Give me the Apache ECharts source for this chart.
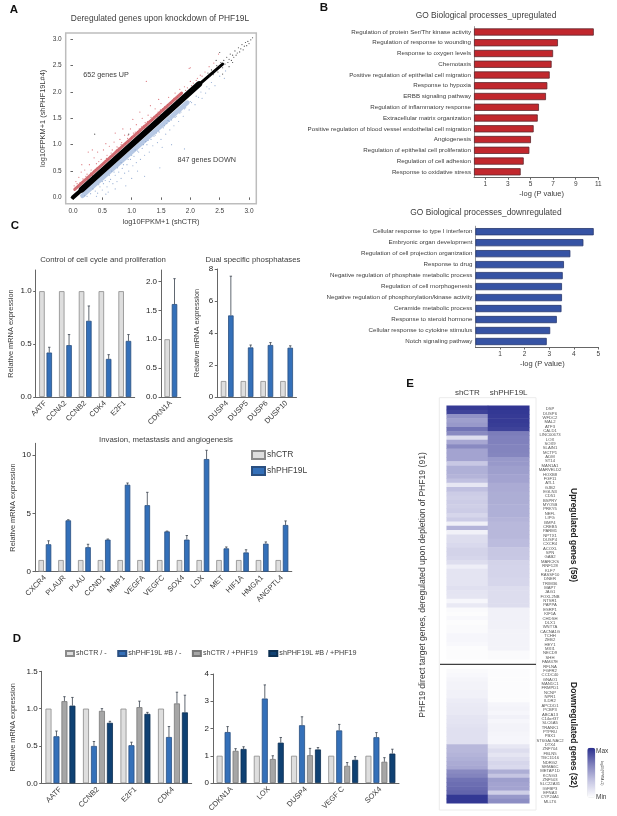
<!DOCTYPE html>
<html>
<head>
    <meta charset="utf-8">
    <title>PHF19L</title>
    <script src="https://cdn.jsdelivr.net/npm/echarts@6/dist/echarts.min.js"></script>
    <style>
        html, body { margin: 0; padding: 0; background: #fff; }
        #main { width: 617px; height: 816px; }
    </style>
</head>
<body>
    <div id="main"></div>
    <script type="text/javascript">
        // panel A. the solid band is the dense bulk of the genes
        var bulkCore = [[0.15, 0.15], [2.15, 2.15]];
        var bulkStart = [[0, 0], [0.35, 0.34]];
        var bulkTip = [[2.0, 2.0], [2.55, 2.53]];
        var redFringe = [[0.03, 0.15], [1.85, 1.98]];
        var blueFringe = [[0.16, 0.03], [1.95, 1.8]];
        var upPoints = [[0.02, 0.22], [0.05, 0.3], [0.08, 0.2], [0.1, 0.38], [0.12, 0.28], [0.14, 0.48], [0.17, 0.35], [0.2, 0.52], [0.22, 0.4], [0.25, 0.34], [0.28, 0.62], [0.3, 0.46], [0.33, 0.42], [0.36, 0.75], [0.38, 0.53], [0.4, 0.64], [0.42, 0.86], [0.45, 0.58], [0.48, 0.72], [0.5, 0.62], [0.52, 0.9], [0.55, 0.7], [0.58, 0.8], [0.6, 0.72], [0.62, 0.97], [0.65, 0.84], [0.68, 0.78], [0.7, 1.05], [0.72, 0.88], [0.75, 0.96], [0.78, 0.88], [0.8, 1.1], [0.82, 1.0], [0.85, 0.98], [0.88, 1.18], [0.9, 1.04], [0.93, 1.12], [0.95, 1.06], [0.98, 1.3], [1.0, 1.15], [1.03, 1.22], [1.05, 1.16], [1.08, 1.38], [1.1, 1.25], [1.13, 1.3], [1.15, 1.26], [1.18, 1.5], [1.2, 1.36], [1.23, 1.42], [1.25, 1.36], [1.28, 1.56], [1.3, 1.45], [1.33, 1.52], [1.36, 1.47], [1.4, 1.68], [1.42, 1.57], [1.45, 1.62], [1.48, 1.58], [1.5, 1.78], [1.53, 1.68], [1.56, 1.72], [1.6, 1.7], [1.63, 1.9], [1.66, 1.8], [1.7, 1.84], [1.74, 1.98], [1.78, 1.9], [1.82, 2.05], [1.86, 1.98], [1.9, 2.1], [1.95, 2.08], [2.0, 2.2], [2.05, 2.17], [2.1, 2.22], [2.17, 2.32], [2.25, 2.38], [2.32, 2.48], [2.4, 2.55], [2.48, 2.72], [1.25, 2.2], [1.98, 2.45], [2.0, 2.46], [0.15, 0.62], [0.26, 0.86], [0.33, 0.9], [0.56, 1.02], [0.72, 1.22], [0.85, 1.3], [1.02, 1.48], [1.14, 1.62], [1.32, 1.74], [1.46, 1.86], [0.07, 0.26], [0.16, 0.3], [0.24, 0.44], [0.31, 0.52], [0.35, 0.5], [0.41, 0.56], [0.44, 0.68], [0.53, 0.66], [0.57, 0.74], [0.63, 0.78], [0.67, 0.9], [0.74, 0.9], [0.77, 0.94], [0.83, 1.04], [0.89, 1.02], [0.94, 1.18], [0.99, 1.12], [1.06, 1.24], [1.12, 1.22], [1.17, 1.34], [1.22, 1.32], [1.27, 1.44], [1.34, 1.45], [1.38, 1.54], [1.44, 1.54], [1.49, 1.66], [1.55, 1.64], [1.61, 1.76], [1.68, 1.78], [1.72, 1.88], [1.76, 1.85], [1.84, 1.95], [1.92, 2.03], [2.02, 2.12], [2.12, 2.26], [2.2, 2.3]];
        var downPoints = [[0.2, 0.03], [0.3, 0.07], [0.24, 0.02], [0.38, 0.12], [0.42, 0.08], [0.46, 0.2], [0.5, 0.14], [0.52, 0.26], [0.58, 0.2], [0.6, 0.1], [0.64, 0.34], [0.68, 0.26], [0.72, 0.42], [0.75, 0.3], [0.78, 0.48], [0.82, 0.36], [0.84, 0.55], [0.88, 0.46], [0.92, 0.62], [0.95, 0.5], [0.98, 0.72], [1.02, 0.6], [1.04, 0.78], [1.08, 0.66], [1.12, 0.86], [1.15, 0.72], [1.18, 0.93], [1.22, 0.8], [1.26, 1.0], [1.3, 0.86], [1.33, 1.1], [1.36, 0.98], [1.4, 1.18], [1.44, 1.04], [1.47, 1.24], [1.5, 1.1], [1.54, 1.32], [1.58, 1.2], [1.6, 1.4], [1.65, 1.28], [1.68, 1.47], [1.72, 1.36], [1.76, 1.54], [1.8, 1.44], [1.84, 1.62], [1.88, 1.54], [1.92, 1.7], [1.98, 1.66], [2.02, 1.8], [2.08, 1.76], [2.14, 1.9], [2.2, 1.88], [2.26, 1.98], [2.32, 2.06], [2.42, 2.12], [2.5, 2.3], [2.58, 2.26], [2.6, 2.4], [1.68, 1.0], [1.48, 0.56], [1.22, 0.4], [0.62, 0.3], [0.9, 0.22], [1.1, 0.5], [1.52, 0.95], [1.9, 0.92], [0.4, 0.02], [0.56, 0.06], [0.72, 0.16], [1.0, 0.36], [0.34, 0.16], [0.44, 0.24], [0.55, 0.32], [0.62, 0.42], [0.7, 0.48], [0.76, 0.56], [0.86, 0.62], [0.94, 0.72], [1.0, 0.8], [1.1, 0.88], [1.2, 1.0], [1.28, 1.08], [1.38, 1.16], [1.46, 1.26], [1.56, 1.36], [1.64, 1.44], [1.74, 1.52], [1.82, 1.6], [1.9, 1.68], [2.0, 1.82], [2.1, 1.92], [2.18, 2.0], [2.28, 2.1], [2.36, 2.18], [0.82, 0.66], [1.06, 0.9], [1.24, 1.06], [1.42, 1.22], [1.62, 1.46], [0.5, 0.3], [0.66, 0.5]];
        var tailPoints = [[2.3, 2.36], [2.33, 2.3], [2.36, 2.42], [2.39, 2.33], [2.42, 2.4], [2.45, 2.5], [2.47, 2.38], [2.5, 2.48], [2.52, 2.56], [2.55, 2.46], [2.57, 2.6], [2.59, 2.53], [2.62, 2.66], [2.64, 2.56], [2.66, 2.62], [2.68, 2.72], [2.7, 2.6], [2.72, 2.7], [2.74, 2.66], [2.76, 2.78], [2.78, 2.7], [2.8, 2.74], [2.82, 2.84], [2.84, 2.76], [2.86, 2.82], [2.88, 2.9], [2.9, 2.8], [2.92, 2.87], [2.94, 2.94], [2.96, 2.88], [2.98, 2.96], [3.0, 2.92], [3.03, 2.99], [3.06, 3.03], [2.72, 2.56], [2.55, 2.34], [2.44, 2.6], [2.66, 2.48], [0.37, 1.2], [0.95, 1.2], [2.5, 2.75]];

        // panel B
        var goUpTerms = ['Regulation of protein Ser/Thr kinase activity', 'Regulation of response to wounding', 'Response to oxygen levels', 'Chemotaxis', 'Positive regulation of epithelial cell migration', 'Response to hypoxia', 'ERBB signaling pathway', 'Regulation of inflammatory response', 'Extracellular matrix organization', 'Positive regulation of blood vessel endothelial cell migration', 'Angiogenesis', 'Regulation of epithelial cell proliferation', 'Regulation of cell adhesion', 'Response to oxidative stress'];
        var goUpValues = [10.6, 7.43, 7.0, 6.87, 6.7, 6.49, 6.37, 5.75, 5.64, 5.28, 5.04, 4.9, 4.4, 4.13];
        var goDownTerms = ['Cellular response to type I interferon', 'Embryonic organ development', 'Regulation of cell projection organization', 'Response to drug', 'Negative regulation of phosphate metabolic process', 'Regulation of cell morphogenesis', 'Negative regulation of phosphorylation/kinase activity', 'Ceramide metabolic process', 'Response to steroid hormone', 'Cellular response to cytokine stimulus', 'Notch signaling pathway'];
        var goDownValues = [4.81, 4.39, 3.86, 3.6, 3.55, 3.52, 3.52, 3.5, 3.31, 3.04, 2.9];

        // panel C
        var cycleGenes = ['AATF', 'CCNA2', 'CCNB2', 'CDK4', 'E2F1'];
        var cycleCtr = [1, 1, 1, 1, 1];
        var cycleKd = [0.42, 0.49, 0.72, 0.36, 0.53];
        var cycleKdTop = [0.47, 0.59, 0.86, 0.4, 0.59];
        var cdknGenes = ['CDKN1A'];
        var cdknCtr = [1];
        var cdknKd = [1.61];
        var cdknKdTop = [2.05];
        var duspGenes = ['DUSP4', 'DUSP5', 'DUSP6', 'DUSP10'];
        var duspCtr = [1, 1, 1, 1];
        var duspKd = [5.1, 3.1, 3.25, 3.08];
        var duspKdTop = [7.55, 3.25, 3.4, 3.2];
        var invGenes = ['CXCR4', 'PLAUR', 'PLAU', 'CCND1', 'MMP1', 'VEGFA', 'VEGFC', 'SOX4', 'LOX', 'MET', 'HIF1A', 'HMGA1', 'ANGPTL4'];
        var invCtr = [1, 1, 1, 1, 1, 1, 1, 1, 1, 1, 1, 1, 1];
        var invKd = [2.35, 4.4, 2.1, 2.75, 7.45, 5.7, 3.45, 2.75, 9.65, 2.0, 1.65, 2.4, 4.0];
        var invKdTop = [2.65, 4.45, 2.35, 2.8, 7.6, 6.8, 3.48, 3.1, 10.4, 2.12, 1.88, 2.55, 4.35];

        // panel D
        var rescueGenesA = ['AATF', 'CCNB2', 'E2F1', 'CDK4'];
        var rescueCtrA = [1, 1, 1, 1];
        var rescueKdA = [0.63, 0.5, 0.51, 0.62];
        var rescueKdTopA = [0.7, 0.56, 0.55, 0.76];
        var rescueCtrPlusA = [1.1, 0.97, 1.02, 1.07];
        var rescueCtrPlusTopA = [1.16, 1.0, 1.1, 1.22];
        var rescueKdPlusA = [1.04, 0.81, 0.93, 0.95];
        var rescueKdPlusTopA = [1.15, 0.83, 0.95, 1.18];
        var rescueGenesB = ['CDKN1A', 'LOX', 'DUSP4', 'VEGF C', 'SOX4'];
        var rescueCtrB = [1, 1, 1, 1, 1];
        var rescueKdB = [1.87, 3.1, 2.12, 1.93, 1.68];
        var rescueKdTopB = [2.07, 3.6, 2.43, 2.15, 1.85];
        var rescueCtrPlusB = [1.18, 0.88, 1.02, 0.63, 0.78];
        var rescueCtrPlusTopB = [1.26, 1.0, 1.27, 0.75, 0.93];
        var rescueKdPlusB = [1.25, 1.48, 1.23, 0.85, 1.08];
        var rescueKdPlusTopB = [1.33, 1.67, 1.3, 0.97, 1.24];

        // panel E, 0 = min, 1 = max
        var heatColumns = ['shCTR', 'shPHF19L'];
        var upGenes = ['DSP', 'DUSP6', 'WFDC2', 'MAL2', 'ATF3', 'CALD1', 'LINC00673', 'LOX', 'SOX9', 'SLAIN1', 'MCTP1', 'ADM', 'ST14', 'MAN1A1', 'MARVELD2', 'HOXB8', 'FGF11', 'ATL1', 'GJB2', 'EGLN3', 'CD51', 'BSPRY', 'MYO5B', 'PRKY5', 'NEFL', 'LIPG', 'BMP4', 'CREB5', 'PARM1', 'NPTX1', 'DUSP4', 'CXCR4', 'ACOXL', 'SPN', 'GAB2', 'MARCKS', 'RNF128', 'KLF7', 'RASSF10', 'DNER', 'TRIM36', 'MAP7', 'JAG1', 'FOXL2NB', 'NTSR1', 'PAPPA', 'ESRP1', 'KIF1A', 'CHDSH', 'DLX1', 'WNT7A', 'CACNA1G', 'TCHH', 'ZEB2', 'HEY1', 'MXI1', 'NECD9', 'SHH', 'FAM47E'];
        var downGenes = ['RFLNA', 'FGFR2', 'CCDC40', 'GNAO1', 'MAN1C1', 'FRMPD1', 'NCNP', 'NPR1', 'ILDR2', 'APCDD1', 'PCBP3', 'ABCA13', 'C14orf37', 'SLC6A5', 'TRANK1', 'PTPRU', 'PBX1', 'ST6GALNAC2', 'DTX4', 'ZNF704', 'FBLN5', 'TBC1D16', 'NDRG2', 'SEMA6C', 'METAP1D', 'KCNG3', 'ZNF503', 'SLC22A31', 'IGFBP3', 'EFNA3', 'CYP24A1', 'MLLT6'];
        var upCtr = [0.95, 0.92, 0.58, 0.52, 0.55, 0.72, 0.62, 0.2, 0.48, 0.62, 0.5, 0.5, 0.5, 0.32, 0.44, 0.44, 0.42, 0.36, 0.14, 0.36, 0.3, 0.28, 0.3, 0.28, 0.3, 0.24, 0.3, 0.09, 0.42, 0.08, 0.2, 0.2, 0.22, 0.26, 0.26, 0.24, 0.2, 0.1, 0.16, 0.16, 0.16, 0.16, 0.18, 0.16, 0.15, 0.05, 0.13, 0.03, 0.02, 0.04, 0.02, 0.03, 0.03, 0.05, 0.05, 0.04, 0.02, 0.02, 0.02];
        var upKd = [0.97, 0.96, 0.95, 0.95, 0.94, 0.92, 0.68, 0.66, 0.66, 0.65, 0.65, 0.64, 0.55, 0.55, 0.52, 0.52, 0.5, 0.5, 0.46, 0.46, 0.45, 0.45, 0.45, 0.44, 0.44, 0.44, 0.42, 0.4, 0.4, 0.4, 0.4, 0.38, 0.38, 0.33, 0.33, 0.32, 0.26, 0.25, 0.25, 0.25, 0.24, 0.24, 0.2, 0.2, 0.2, 0.2, 0.2, 0.08, 0.08, 0.08, 0.08, 0.08, 0.07, 0.07, 0.07, 0.07, 0.07, 0.03, 0.03];
        var downCtr = [0.03, 0.04, 0.06, 0.07, 0.07, 0.08, 0.08, 0.11, 0.12, 0.13, 0.13, 0.15, 0.16, 0.17, 0.18, 0.18, 0.18, 0.18, 0.4, 0.4, 0.42, 0.44, 0.46, 0.48, 0.62, 0.65, 0.72, 0.74, 0.76, 0.78, 0.96, 0.96];
        var downKd = [0.02, 0.02, 0.02, 0.02, 0.02, 0.02, 0.02, 0.02, 0.06, 0.07, 0.05, 0.08, 0.05, 0.07, 0.07, 0.06, 0.05, 0.05, 0.14, 0.2, 0.15, 0.2, 0.24, 0.22, 0.45, 0.34, 0.52, 0.5, 0.5, 0.28, 0.55, 0.6];

        var FONT = '"Liberation Sans", Arial, sans-serif';
        var TEXT = '#3c3c3c';
        var GREY = { color: '#dedede', border: '#8a8a8a' };
        var BLUE = { color: '#3470b9', border: '#2a4f80' };
        var MID = { color: '#a6a6a6', border: '#777777' };
        var NAVY = { color: '#0f4173', border: '#0c2f52' };

        var option = {
            animation: false,
            textStyle: { fontFamily: FONT, color: TEXT },
            title: [], grid: [], xAxis: [], yAxis: [], series: [],
            legend: [
                {
                    data: ['shCTR', 'shPHF19L'], orient: 'vertical', left: 251, top: 450, padding: 0, icon: 'rect',
                    itemWidth: 13, itemHeight: 8, itemGap: 6, selectedMode: false,
                    textStyle: { fontSize: 8.5, color: TEXT, padding: [0, 0, 0, -3] }
                },
                {
                    data: ['shCTR / -', 'shPHF19L #B / -', 'shCTR / +PHF19', 'shPHF19L #B / +PHF19'], left: 65, top: 650, padding: 0, icon: 'rect',
                    itemWidth: 8, itemHeight: 5, itemGap: 10.5, selectedMode: false,
                    textStyle: { fontSize: 7.2, color: TEXT, padding: [0, 0, 0, -3] }
                }
            ],
            graphic: []
        };

        function addTitle(text, x, y, size) {
            option.title.push({
                text: text, left: x, top: y, textAlign: 'center', textVerticalAlign: 'middle', padding: 0,
                textStyle: { fontSize: size, fontWeight: 'normal', color: TEXT, fontFamily: FONT }
            });
        }

        function addText(text, x, y, size, opts) {
            opts = opts || {};
            option.graphic.push({
                type: 'text', x: x, y: y, rotation: opts.rotation || 0, z: 20,
                style: {
                    text: text, fontSize: size, fontFamily: FONT, fontWeight: opts.weight || 'normal',
                    fill: opts.fill || TEXT, textAlign: opts.align || 'center', textVerticalAlign: 'middle'
                }
            });
        }

        function ticksAxis(values, fmt, fontSize, color) {
            return {
                axisTick: { show: true, length: 2.5, customValues: values, lineStyle: { color: '#666' } },
                axisLabel: { customValues: values, formatter: fmt, fontSize: fontSize, margin: 4, color: color || '#222' }
            };
        }

        // grouped bars with one sided error whiskers
        function addBars(cfg) {
            var gridIndex = option.grid.length;
            option.grid.push({ left: cfg.box[0], top: cfg.box[1], width: cfg.box[2], height: cfg.box[3] });
            option.xAxis.push({
                type: 'category', gridIndex: gridIndex, data: cfg.cats,
                axisLine: { lineStyle: { color: '#666' } }, axisTick: { show: false },
                axisLabel: { rotate: 45, interval: 0, fontSize: 7.5, margin: 5, color: TEXT }
            });
            var ticks = ticksAxis(cfg.ticks, cfg.fmt, cfg.tickSize || 8);
            option.yAxis.push({
                type: 'value', gridIndex: gridIndex, min: 0, max: cfg.max,
                name: cfg.name || '', nameLocation: 'middle', nameGap: cfg.nameGap || 20,
                nameTextStyle: { fontSize: 7.4, color: TEXT },
                axisLine: { show: true, lineStyle: { color: '#666' } },
                axisTick: ticks.axisTick, axisLabel: ticks.axisLabel, splitLine: { show: false }
            });
            var step = cfg.barWidth * 1.33;
            var n = cfg.bars.length;
            cfg.bars.forEach(function (b, k) {
                option.series.push({
                    type: 'bar', name: b.name, xAxisIndex: gridIndex, yAxisIndex: gridIndex,
                    data: b.values, barWidth: cfg.barWidth, barGap: '33%',
                    itemStyle: { color: b.style.color, borderColor: b.style.border, borderWidth: 0.8 }
                });
                if (!b.tops) return;
                var offset = (k - (n - 1) / 2) * step;
                option.series.push({
                    type: 'custom', name: b.name + ' error', xAxisIndex: gridIndex, yAxisIndex: gridIndex, z: 5,
                    data: b.values.map(function (v, i) { return [i, v, b.tops[i]]; }),
                    renderItem: function (params, api) {
                        var base = api.coord([api.value(0), api.value(1)]);
                        var top = api.coord([api.value(0), api.value(2)]);
                        var x = base[0] + offset;
                        var style = { stroke: '#39414d', lineWidth: 0.8, fill: null };
                        return {
                            type: 'group', children: [
                                { type: 'line', shape: { x1: x, y1: base[1], x2: x, y2: top[1] }, style: style },
                                { type: 'line', shape: { x1: x - 1.2, y1: top[1], x2: x + 1.2, y2: top[1] }, style: style }
                            ]
                        };
                    }
                });
            });
        }

        // horizontal enrichment bars of panel B
        function addGoBars(cfg) {
            var gridIndex = option.grid.length;
            option.grid.push({ left: cfg.box[0], top: cfg.box[1], width: cfg.box[2], height: cfg.box[3] });
            var ticks = ticksAxis(cfg.ticks, null, 6.5, TEXT);
            option.xAxis.push({
                type: 'value', gridIndex: gridIndex, min: 0, max: cfg.max,
                name: '-log (P value)', nameLocation: 'middle', nameGap: 13,
                nameTextStyle: { fontSize: 7.5, color: TEXT, padding: [0, 0, 0, 11] },
                axisLine: { show: true, lineStyle: { color: '#666' } },
                axisTick: ticks.axisTick, axisLabel: ticks.axisLabel, splitLine: { show: false }
            });
            option.yAxis.push({
                type: 'category', gridIndex: gridIndex, data: cfg.terms, inverse: true,
                axisLine: { show: true, lineStyle: { color: '#999' } }, axisTick: { show: false },
                axisLabel: { interval: 0, fontSize: 6.2, margin: 3, color: TEXT }
            });
            option.series.push({
                type: 'bar', xAxisIndex: gridIndex, yAxisIndex: gridIndex, data: cfg.values, barWidth: 7.2,
                itemStyle: { color: cfg.color, borderColor: cfg.border, borderWidth: 0.8 }
            });
        }

        // one block of the heat map
        function addHeat(genes, ctr, kd, top, height) {
            var gridIndex = option.grid.length;
            option.grid.push({ left: 446.7, top: top, width: 82.6, height: height });
            option.xAxis.push({
                type: 'category', gridIndex: gridIndex, data: heatColumns, position: 'top',
                axisLine: { show: false }, axisTick: { show: false },
                axisLabel: { show: top < 500, interval: 0, fontSize: 8, margin: 9, color: TEXT }
            });
            option.yAxis.push({
                type: 'category', gridIndex: gridIndex, data: genes, inverse: true,
                axisLine: { show: false }, axisTick: { show: false }, axisLabel: { show: false }
            });
            var cells = [];
            genes.forEach(function (g, i) {
                cells.push([0, i, ctr[i]]);
                cells.push([1, i, kd[i]]);
            });
            option.series.push({
                type: 'heatmap', xAxisIndex: gridIndex, yAxisIndex: gridIndex, data: cells, progressive: 0
            });
            return option.series.length - 1;
        }

        // panel A
        var scatterGrid = option.grid.length;
        option.grid.push({
            left: 65.7, top: 33, width: 190.6, height: 170.7, show: true,
            borderColor: '#bdbdbd', borderWidth: 1.5, backgroundColor: '#fff'
        });
        var saX = ticksAxis([0, 0.5, 1, 1.5, 2, 2.5, 3], function (v) { return v.toFixed(1); }, 6.5, TEXT);
        option.xAxis.push({
            type: 'value', gridIndex: scatterGrid, min: -0.124, max: 3.124,
            name: 'log10FPKM+1 (shCTR)', nameLocation: 'middle', nameGap: 15, nameTextStyle: { fontSize: 7.4, color: TEXT },
            axisLine: { show: false }, axisTick: saX.axisTick, axisLabel: saX.axisLabel, splitLine: { show: false }
        });
        var saY = ticksAxis([0, 0.5, 1, 1.5, 2, 2.5, 3], function (v) { return v.toFixed(1); }, 6.5, TEXT);
        option.yAxis.push({
            type: 'value', gridIndex: scatterGrid, min: -0.12, max: 3.12,
            name: 'log10FPKM+1 (shPHF19L#4)', nameLocation: 'middle', nameGap: 19, nameTextStyle: { fontSize: 7.4, color: TEXT },
            axisLine: { show: false }, axisTick: saY.axisTick, axisLabel: saY.axisLabel, splitLine: { show: false }
        });
        function addScatter(points, color, size, z) {
            option.series.push({
                type: 'scatter', xAxisIndex: scatterGrid, yAxisIndex: scatterGrid, data: points, z: z,
                symbolSize: size, itemStyle: { color: color }, silent: true
            });
        }
        function addBand(points, color, width, opacity, z) {
            option.series.push({
                type: 'line', xAxisIndex: scatterGrid, yAxisIndex: scatterGrid, data: points, symbol: 'none', silent: true, z: z,
                lineStyle: { color: color, width: width, opacity: opacity, cap: 'round' }
            });
        }
        addBand(redFringe, '#c9535a', 3, 0.85, 2);
        addBand(blueFringe, '#a9bedf', 4.5, 0.85, 2);
        addScatter(upPoints, '#d2545c', 1.2, 3);
        addScatter(downPoints, '#7f9ccb', 1.2, 3);
        addBand(bulkStart, '#000', 4, 1, 4);
        addBand(bulkCore, '#000', 6, 1, 4);
        addBand(bulkTip, '#000', 3, 1, 4);
        addScatter(tailPoints, '#222', 1.2, 5);

        // panel B
        addGoBars({ box: [474, 26.6, 124.3, 150.6], terms: goUpTerms, values: goUpValues, max: 11, ticks: [1, 3, 5, 7, 9, 11], color: '#c1272d', border: '#5e2a30' });
        addGoBars({ box: [475.4, 226.2, 123, 120.8], terms: goDownTerms, values: goDownValues, max: 5, ticks: [1, 2, 3, 4, 5], color: '#3653a4', border: '#28396f' });

        // panel C
        function oneDecimal(v) { return v.toFixed(1); }
        addBars({
            box: [35.7, 270, 99, 127], cats: cycleGenes, max: 1.2, ticks: [0, 0.5, 1], fmt: oneDecimal, barWidth: 5.5,
            name: 'Relative mRNA expression', nameGap: 21,
            bars: [{ name: 'shCTR', values: cycleCtr, style: GREY }, { name: 'shPHF19L', values: cycleKd, tops: cycleKdTop, style: BLUE }]
        });
        addBars({
            box: [161, 270, 19.7, 127], cats: cdknGenes, max: 2.2, ticks: [0, 0.5, 1, 1.5, 2], fmt: oneDecimal, barWidth: 5.5,
            bars: [{ name: 'shCTR', values: cdknCtr, style: GREY }, { name: 'shPHF19L', values: cdknKd, tops: cdknKdTop, style: BLUE }]
        });
        addBars({
            box: [217.3, 269, 79.2, 128], cats: duspGenes, max: 8, ticks: [0, 2, 4, 6, 8], barWidth: 5.5,
            name: 'Relative mRNA expression', nameGap: 17,
            bars: [{ name: 'shCTR', values: duspCtr, style: GREY }, { name: 'shPHF19L', values: duspKd, tops: duspKdTop, style: BLUE }]
        });
        addBars({
            box: [35, 443.3, 256.8, 128.4], cats: invGenes, max: 11, ticks: [0, 5, 10], barWidth: 5.5,
            name: 'Relative mRNA expression', nameGap: 19,
            bars: [{ name: 'shCTR', values: invCtr, style: GREY }, { name: 'shPHF19L', values: invKd, tops: invKdTop, style: BLUE }]
        });

        // panel D
        addBars({
            box: [41.7, 671.3, 150, 112], cats: rescueGenesA, max: 1.5, ticks: [0, 0.5, 1, 1.5], fmt: oneDecimal, barWidth: 6,
            name: 'Relative mRNA expression', nameGap: 25,
            bars: [
                { name: 'shCTR / -', values: rescueCtrA, style: GREY },
                { name: 'shPHF19L #B / -', values: rescueKdA, tops: rescueKdTopA, style: BLUE },
                { name: 'shCTR / +PHF19', values: rescueCtrPlusA, tops: rescueCtrPlusTopA, style: MID },
                { name: 'shPHF19L #B / +PHF19', values: rescueKdPlusA, tops: rescueKdPlusTopA, style: NAVY }
            ]
        });
        addBars({
            box: [213, 674, 186, 109], cats: rescueGenesB, max: 4, ticks: [0, 1, 2, 3, 4], barWidth: 6,
            bars: [
                { name: 'shCTR / -', values: rescueCtrB, style: GREY },
                { name: 'shPHF19L #B / -', values: rescueKdB, tops: rescueKdTopB, style: BLUE },
                { name: 'shCTR / +PHF19', values: rescueCtrPlusB, tops: rescueCtrPlusTopB, style: MID },
                { name: 'shPHF19L #B / +PHF19', values: rescueKdPlusB, tops: rescueKdPlusTopB, style: NAVY }
            ]
        });

        // panel E
        option.graphic.push({
            type: 'rect', shape: { x: 439.3, y: 397.7, width: 96.7, height: 412.3 }, z: -1,
            style: { fill: '#fff', stroke: '#ececec', lineWidth: 1 }
        });
        var heatUp = addHeat(upGenes, upCtr, upKd, 405.7, 253.6);
        var heatDown = addHeat(downGenes, downCtr, downKd, 669, 134.3);
        option.graphic.push({
            type: 'line', shape: { x1: 440, y1: 664.3, x2: 536, y2: 664.3 }, z: 20,
            style: { stroke: '#111', lineWidth: 1 }
        });
        var labelGrid = option.grid.length;
        option.grid.push({ left: 536, top: 406.8, width: 14, height: 397 });
        option.xAxis.push({ type: 'category', gridIndex: labelGrid, show: false, data: [''] });
        option.yAxis.push({
            type: 'category', gridIndex: labelGrid, inverse: true, position: 'right', data: upGenes.concat(downGenes),
            axisLine: { show: false }, axisTick: { show: false },
            axisLabel: { interval: 0, fontSize: 4.2, margin: 0, align: 'center', color: '#555' }
        });
        option.visualMap = {
            type: 'continuous', seriesIndex: [heatUp, heatDown], min: 0, max: 1, calculable: false, realtime: false,
            left: 587.3, top: 747.7, itemWidth: 8, itemHeight: 50, padding: 0, textGap: 0, showLabel: false, hoverLink: false,
            inRange: { color: ['#ffffff', '#c6c6e3', '#7f80bc', '#292e8e'] }
        };

        addTitle('Deregulated genes upon knockdown of PHF19L', 160, 19, 8.4);
        addTitle('GO Biological processes_upregulated', 486, 16, 8.4);
        addTitle('GO Biological processes_downregulated', 486, 213, 8.4);
        addTitle('Control of cell cycle and proliferation', 103, 260, 7.8);
        addTitle('Dual specific phosphatases', 253, 260, 7.8);
        addTitle('Invasion, metastasis and angiogenesis', 166, 440, 7.8);

        addText('A', 14, 10, 11.5, { weight: 'bold', fill: '#111' });
        addText('B', 324, 8, 11.5, { weight: 'bold', fill: '#111' });
        addText('C', 15, 226, 11.5, { weight: 'bold', fill: '#111' });
        addText('D', 17, 639, 11.5, { weight: 'bold', fill: '#111' });
        addText('E', 410, 384, 11.5, { weight: 'bold', fill: '#111' });
        addText('652 genes UP', 106, 75, 7.2);
        addText('847 genes DOWN', 206.7, 160, 7.2);
        addText('PHF19 direct target genes, deregulated upon depletion of PHF19 (91)', 423, 585, 8.6, { rotation: Math.PI / 2 });
        addText('Upregulated genes (59)', 573, 535, 8.5, { rotation: -Math.PI / 2, weight: 'bold', fill: '#222' });
        addText('Downregulated genes (32)', 573, 735, 8.5, { rotation: -Math.PI / 2, weight: 'bold', fill: '#222' });
        addText('Max', 596, 751, 6.5, { align: 'left' });
        addText('Min', 596, 797, 6.5, { align: 'left' });
        addText('log10(FPKM+1)', 602, 773, 3.5, { rotation: -Math.PI / 2 });

        var myChart = echarts.init(document.getElementById('main'), null, { renderer: 'canvas' });
        myChart.setOption(option);
    </script>
</body>
</html>
